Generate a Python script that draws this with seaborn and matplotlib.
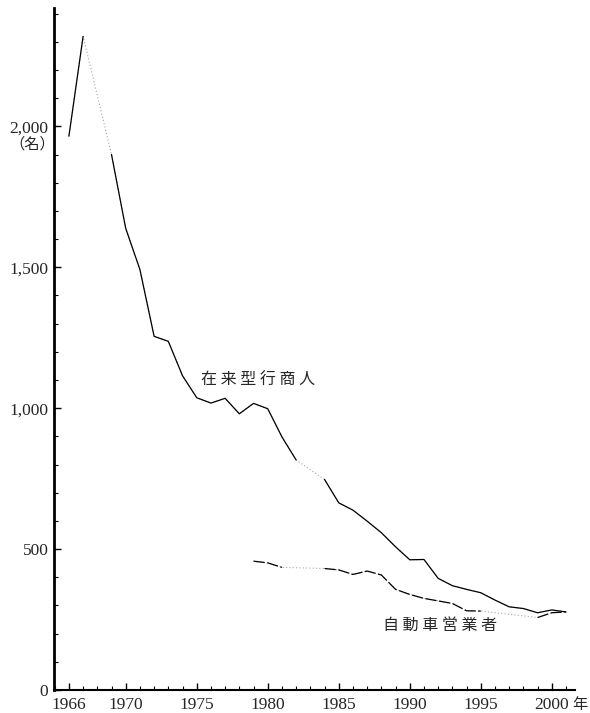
import numpy as np
import pandas as pd
import matplotlib
matplotlib.use("Agg")
import matplotlib.pyplot as plt
import seaborn as sns
from matplotlib.ticker import FixedLocator, MultipleLocator

# ---- data ----
years_trad = list(range(1966, 2002))
trad = [1965, 2319, np.nan, 1900, 1638, 1492, 1255, 1237, 1115, 1037,
        1018, 1035, 980, 1017, 998, 898, 816, np.nan, 747, 664,
        638, 599, 558, 508, 462, 463, 396, 370, 357, 345,
        319, 295, 289, 274, 284, 277]
years_auto = list(range(1979, 2002))
auto = [457, 451, 435, np.nan, np.nan, 431, 426, 410, 422, 408,
        357, 339, 325, 316, 307, 281, 280, np.nan, np.nan, np.nan,
        257, 274, 277]
label_trad = "在来型行商人"
label_auto = "自動車営業者"
x_major = [1966, 1970, 1975, 1980, 1985, 1990, 1995, 2000]
y_major = [0, 500, 1000, 1500, 2000]
y_labels = ["0", "500", "1,000", "1,500", "2,000"]

def segs(years, vals):
    df = pd.DataFrame({"year": years, "value": vals})
    df["seg"] = df["value"].isna().cumsum()
    return df

df_t = segs(years_trad, trad)
df_a = segs(years_auto, auto)

sns.set_theme(style="ticks")
cjk = ["Noto Sans CJK JP", "DejaVu Sans"]
serif = ["Liberation Serif", "DejaVu Serif"]

fig = plt.figure(figsize=(5.9, 7.13), dpi=100)
ax = fig.add_axes([0.0915, 0.0323, 0.883, 0.9565])

# gap connectors (faint dotted)
for d in (df_t, df_a):
    dd = d.dropna()
    sns.lineplot(data=dd, x="year", y="value", ax=ax, color="0.65",
                 linestyle=(0, (1, 2)), linewidth=0.8, estimator=None,
                 sort=False)

# solid segments
dt = df_t.dropna()
sns.lineplot(data=dt, x="year", y="value", units="seg", estimator=None,
             ax=ax, color="black", linewidth=0.9, sort=False)
da = df_a.dropna()
sns.lineplot(data=da, x="year", y="value", units="seg", estimator=None,
             ax=ax, color="black", linewidth=0.9, sort=False,
             dashes=False, linestyle=(0, (9, 2)))

ax.set_xlim(1964.95, 2001.63)
ax.set_ylim(0, 2420)
ax.xaxis.set_major_locator(FixedLocator(x_major))
ax.xaxis.set_minor_locator(MultipleLocator(1))
ax.yaxis.set_major_locator(FixedLocator(y_major))
ax.yaxis.set_minor_locator(MultipleLocator(100))
ax.set_yticklabels(y_labels)
ax.set_xticklabels([str(v) for v in x_major])
ax.tick_params(axis="both", which="major", direction="in", length=5,
               width=1, labelsize=12.5, color="black")
ax.tick_params(axis="both", which="minor", direction="in", length=3,
               width=0.8, color="black")
ax.tick_params(axis="x", which="major", pad=5)
ax.tick_params(axis="y", which="major", pad=4)
for lab in ax.get_xticklabels() + ax.get_yticklabels():
    lab.set_family(serif)
ax.set_xlabel("")
ax.set_ylabel("")
for s in ["top", "right"]:
    ax.spines[s].set_visible(False)
ax.spines["left"].set_linewidth(2)
ax.spines["bottom"].set_linewidth(1.5)
ax.spines["left"].set_color("black")
ax.spines["bottom"].set_color("black")

ax.annotate("（名）", xy=(0, 2000), xycoords=("axes fraction", "data"),
            xytext=(-16, -13), textcoords="offset points", ha="center",
            va="center", fontsize=11, family=cjk)
fig.text(0.995, 0.0126, "年", ha="right", va="center", fontsize=11,
         family=cjk)

ax.text(1979.3, 1099, " ".join(label_trad), ha="center", va="center",
        fontsize=11.5, family=cjk)
ax.text(1992.1, 230, " ".join(label_auto), ha="center", va="center",
        fontsize=11.5, family=cjk)

fig.savefig("out.png", dpi=100)
